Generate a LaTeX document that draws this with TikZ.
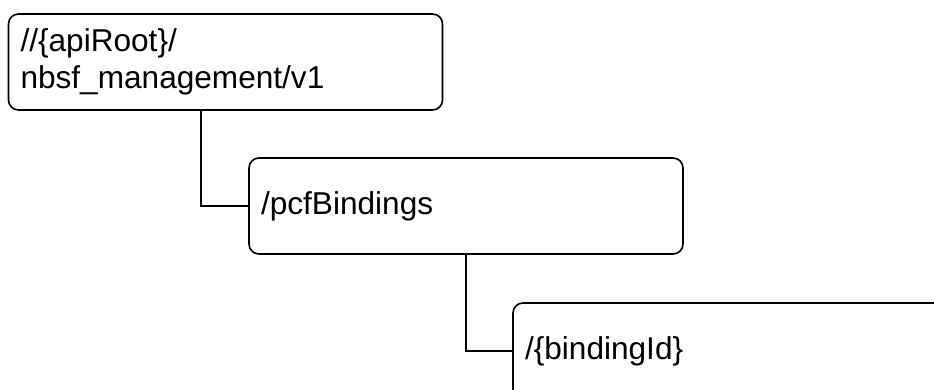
\documentclass[tikz,border=0pt]{standalone}
\usepackage{fontspec}
\setmainfont{Liberation Sans}
\usepackage{tikz}

\tikzset{
  resbox/.style={draw, line width=1.6pt, rounded corners=10pt,
    minimum height=96pt, text width=410pt, inner xsep=12pt, inner ysep=0pt,
    align=left, font=\fontsize{31.6}{36.5}\selectfont},
  resline/.style={line width=1.6pt}
}

\begin{document}
\begin{tikzpicture}[x=1pt,y=-1pt]
\useasboundingbox (0,0) rectangle (934,390);

\node [resbox] (root) at (225.5,62) {//\{apiRoot\}/\\nbsf\_management/v1};
\node [resbox] (bind) at (466,206) {/pcfBindings};
\node [resbox] (bid) at (730,351) {/\{bindingId\}};

\draw [resline] ([xshift=-24.5pt]root.south) |- (bind.west);
\draw [resline] (bind.south) |- (bid.west);

\end{tikzpicture}
\end{document}
